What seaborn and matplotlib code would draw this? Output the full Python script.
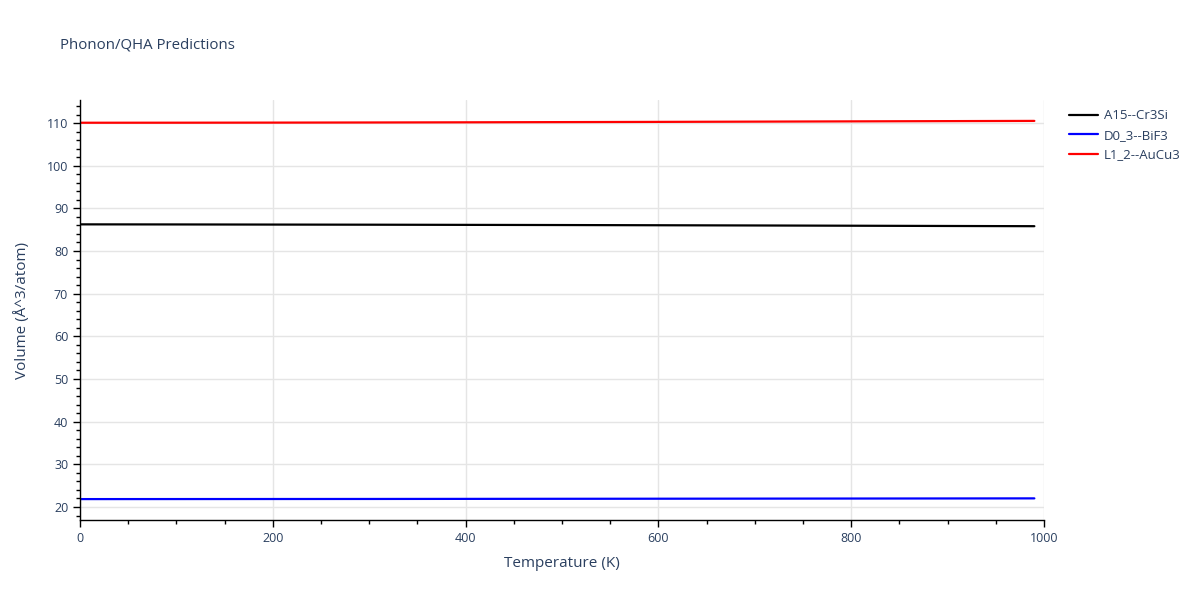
import matplotlib
matplotlib.use("Agg")
import matplotlib.pyplot as plt
import seaborn as sns
import pandas as pd
from matplotlib.ticker import MultipleLocator

temperature = [0, 100, 200, 300, 400, 500, 600, 700, 800, 900, 990]
a15_cr3si = [86.25, 86.23, 86.20, 86.17, 86.13, 86.09, 86.04, 85.99, 85.93, 85.87, 85.82]
d0_3_bif3 = [21.85, 21.86, 21.87, 21.88, 21.90, 21.92, 21.94, 21.96, 21.98, 22.00, 22.02]
l1_2_aucu3 = [110.07, 110.08, 110.10, 110.13, 110.17, 110.22, 110.27, 110.33, 110.39, 110.45, 110.50]
series_names = ["A15--Cr3Si", "D0_3--BiF3", "L1_2--AuCu3"]
series_colors = ["black", "blue", "red"]

frames = []
for name, vals in zip(series_names, [a15_cr3si, d0_3_bif3, l1_2_aucu3]):
    frames.append(pd.DataFrame({"Temperature": temperature, "Volume": vals, "Structure": name}))
df = pd.concat(frames, ignore_index=True)

sns.set_theme(style="white")
plt.rcParams["font.family"] = ["Open Sans", "DejaVu Sans"]

txt = "#2a3f5f"
fig = plt.figure(figsize=(12, 6), dpi=100)
ax = fig.add_axes([80 / 1200, 1 - 520 / 600, (1044 - 80) / 1200, 420 / 600])

sns.lineplot(data=df, x="Temperature", y="Volume", hue="Structure",
             palette=dict(zip(series_names, series_colors)), linewidth=1.6,
             ax=ax, legend=True)

ax.set_xlim(0, 1000)
ax.set_ylim(16.95, 115.4)
ax.xaxis.set_major_locator(MultipleLocator(200))
ax.xaxis.set_minor_locator(MultipleLocator(50))
ax.yaxis.set_major_locator(MultipleLocator(10))
ax.yaxis.set_minor_locator(MultipleLocator(2))
ax.grid(True, which="major", color="#e5e5e5", linewidth=1)
ax.set_axisbelow(True)
for s in ["top", "right"]:
    ax.spines[s].set_visible(False)
for s in ["left", "bottom"]:
    ax.spines[s].set_color("black")
    ax.spines[s].set_linewidth(1)
ax.tick_params(which="major", direction="out", length=5, width=1, color="black",
               labelsize=9, labelcolor=txt, bottom=True, left=True)
ax.tick_params(which="minor", direction="out", length=3, width=1, color="black",
               bottom=True, left=True)
ax.set_xlabel("Temperature (K)", fontsize=11, color=txt, labelpad=8)
ax.set_ylabel("Volume (Å^3/atom)", fontsize=11, color=txt, labelpad=12)

handles, labels = ax.get_legend_handles_labels()
leg = ax.legend(handles, labels, loc="upper left", bbox_to_anchor=(1.016, 1.0),
                frameon=False, fontsize=9.5, handlelength=2.2, handletextpad=0.45,
                labelcolor=txt, borderaxespad=0.3)

fig.text(60 / 1200, 1 - 45 / 600, "Phonon/QHA Predictions", fontsize=10.8,
         color=txt, va="center", ha="left")

fig.savefig("out.png", dpi=100, facecolor="white")
